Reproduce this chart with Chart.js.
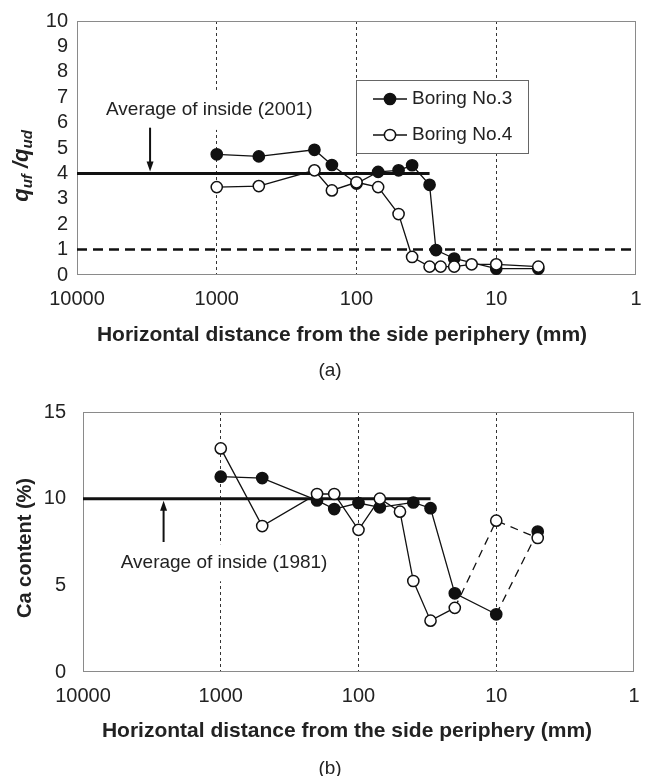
<!DOCTYPE html>
<html>
<head>
<meta charset="utf-8">
<script src="https://cdn.jsdelivr.net/npm/chart.js@4.4.1/dist/chart.umd.min.js"></script>
<style>
  body { margin: 0; background: #fff; width: 646px; height: 776px; position: relative; overflow: hidden; font-family: "Liberation Sans", Arial, sans-serif; }
  canvas { position: absolute; left: 0; }
  #chartA { top: 0; }
  #chartB { top: 380px; }
  .cap { position: absolute; left: 300px; width: 60px; text-align: center; font-size: 19px; color: #222; line-height: 22px; }
</style>
</head>
<body>
<canvas id="chartA" width="646" height="380"></canvas>
<canvas id="chartB" width="646" height="396"></canvas>
<div class="cap" style="top:359px">(a)</div>
<div class="cap" style="top:757px">(b)</div>
<script>
// axis ticks
const xTicks = [1, 10, 100, 1000, 10000];
const yTicksA = [0, 1, 2, 3, 4, 5, 6, 7, 8, 9, 10];
const yTicksB = [0, 5, 10, 15];

// (a) strength ratio qu,f / qu,d
const distA3 = [1000, 500, 200, 150, 100, 70, 50, 40, 30, 27, 20, 10, 5];
const ratioA3 = [4.75, 4.67, 4.93, 4.33, 3.6, 4.06, 4.12, 4.32, 3.55, 0.98, 0.65, 0.25, 0.25];
const distA4 = [1000, 500, 200, 150, 100, 70, 50, 40, 30, 25, 20, 15, 10, 5];
const ratioA4 = [3.46, 3.5, 4.12, 3.33, 3.65, 3.46, 2.4, 0.71, 0.33, 0.33, 0.33, 0.42, 0.42, 0.33];
const avgSpanA = [10000, 30];
const avgValueA = 4;
const refValueA = 1;

// (b) Ca content (%)
const distB3 = [1000, 500, 200, 150, 100, 70, 40, 30, 20, 10, 5];
const caB3 = [11.27, 11.19, 9.9, 9.4, 9.75, 9.5, 9.78, 9.45, 4.54, 3.33, 8.1];
const distB4 = [1000, 500, 200, 150, 100, 70, 50, 40, 30, 20, 10, 5];
const caB4 = [12.9, 8.42, 10.27, 10.27, 8.2, 10.0, 9.25, 5.25, 2.96, 3.7, 8.73, 7.73];
const dashFromB3 = [9];
const dashFromB4 = [9, 10];
const avgSpanB = [10000, 30];
const avgValueB = 10;

const FONT = '"Liberation Sans", Arial, sans-serif';
const INK = '#222';

const pts = (xs, ys) => xs.map((x, i) => ({ x: x, y: ys[i] }));

function boring(label, data, filled, order, dashFrom) {
    return {
        label: label,
        data: data,
        showLine: true,
        borderColor: '#111',
        borderWidth: 1.3,
        pointRadius: 5.6,
        pointBorderWidth: 1.5,
        pointBorderColor: '#111',
        pointBackgroundColor: filled ? '#111' : '#fff',
        order: order,
        segment: {
            borderDash: c => (dashFrom && dashFrom.includes(c.p0DataIndex)) ? [8, 6] : undefined
        }
    };
}

function flatLine(span, value, width, dash, order) {
    return {
        data: span.map(x => ({ x: x, y: value })),
        showLine: true,
        borderColor: '#111',
        borderWidth: width,
        borderDash: dash,
        pointRadius: 0,
        order: order
    };
}

function xAxis(height) {
    return {
        type: 'logarithmic', min: 1, max: 10000, reverse: true,
        afterBuildTicks: s => { s.ticks = xTicks.map(v => ({ value: v })); },
        afterFit: s => { s.height = height; },
        ticks: { callback: v => String(v), font: { size: 20, family: FONT }, color: INK, padding: 12, maxRotation: 0, autoSkip: false },
        grid: {
            drawTicks: false,
            lineWidth: 1,
            color: c => (c.tick && [10, 100, 1000].includes(c.tick.value)) ? '#333' : 'rgba(0,0,0,0)'
        },
        border: { display: false, dash: [3, 3] }
    };
}

function yAxis(ticks, width, pad) {
    return {
        type: 'linear', min: ticks[0], max: ticks[ticks.length - 1],
        afterBuildTicks: s => { s.ticks = ticks.map(v => ({ value: v })); },
        afterFit: s => { s.width = width; },
        ticks: { font: { size: 20, family: FONT }, color: INK, padding: pad, autoSkip: false },
        grid: { display: false, drawTicks: false },
        border: { display: false }
    };
}

function frame(chart) {
    const { ctx, chartArea: a } = chart;
    ctx.save();
    ctx.strokeStyle = '#8a8a8a';
    ctx.lineWidth = 1;
    ctx.strokeRect(Math.round(a.left) + 0.5, Math.round(a.top) + 0.5, Math.round(a.right - a.left) - 1, Math.round(a.bottom - a.top) - 1);
    ctx.restore();
}

function note(ctx, text, cx, cy, boxH) {
    ctx.save();
    ctx.font = '19px ' + FONT;
    const w = ctx.measureText(text).width;
    ctx.fillStyle = '#fff';
    ctx.fillRect(cx - w / 2 - 4, cy - boxH / 2, w + 8, boxH);
    ctx.fillStyle = INK;
    ctx.textAlign = 'center';
    ctx.textBaseline = 'middle';
    ctx.fillText(text, cx, cy);
    ctx.restore();
}

function arrow(ctx, x, y0, y1) {
    const dir = y1 > y0 ? 1 : -1;
    ctx.save();
    ctx.strokeStyle = '#111';
    ctx.fillStyle = '#111';
    ctx.lineWidth = 2;
    ctx.beginPath();
    ctx.moveTo(x, y0);
    ctx.lineTo(x, y1 - dir * 8);
    ctx.stroke();
    ctx.beginPath();
    ctx.moveTo(x, y1);
    ctx.lineTo(x - 3.5, y1 - dir * 10);
    ctx.lineTo(x + 3.5, y1 - dir * 10);
    ctx.closePath();
    ctx.fill();
    ctx.restore();
}

function xTitle(ctx, cx, cy) {
    ctx.save();
    ctx.font = 'bold 21px ' + FONT;
    ctx.fillStyle = INK;
    ctx.textAlign = 'center';
    ctx.textBaseline = 'middle';
    ctx.fillText('Horizontal distance from the side periphery (mm)', cx, cy);
    ctx.restore();
}

function marker(ctx, x, y, filled) {
    ctx.save();
    ctx.strokeStyle = '#111';
    ctx.lineWidth = 1.3;
    ctx.beginPath();
    ctx.moveTo(x - 17, y);
    ctx.lineTo(x + 17, y);
    ctx.stroke();
    ctx.beginPath();
    ctx.arc(x, y, 5.6, 0, Math.PI * 2);
    ctx.fillStyle = filled ? '#111' : '#fff';
    ctx.fill();
    ctx.lineWidth = 1.5;
    ctx.stroke();
    ctx.restore();
}

const decorA = {
    id: 'decorA',
    beforeDatasetsDraw(chart) { frame(chart); },
    afterDatasetsDraw(chart) {
        const { ctx, scales: { x, y } } = chart;
        note(ctx, 'Average of inside (2001)', x.getPixelForValue(1130), y.getPixelForValue(6.5), 40);
        arrow(ctx, x.getPixelForValue(3000), y.getPixelForValue(5.8), y.getPixelForValue(avgValueA) - 2);

        // legend box
        ctx.save();
        ctx.fillStyle = '#fff';
        ctx.fillRect(356, 80, 172, 73);
        ctx.strokeStyle = '#666';
        ctx.lineWidth = 1;
        ctx.strokeRect(356.5, 80.5, 172, 73);
        ctx.restore();
        marker(ctx, 390, 99, true);
        marker(ctx, 390, 135, false);
        ctx.save();
        ctx.font = '19px ' + FONT;
        ctx.fillStyle = INK;
        ctx.textBaseline = 'middle';
        ctx.fillText('Boring No.3', 412, 99);
        ctx.fillText('Boring No.4', 412, 135);
        ctx.restore();
    },
    afterDraw(chart) {
        const ctx = chart.ctx;
        xTitle(ctx, 342, 335);
        // y title: q_uf / q_ud
        const parts = [['q', 0, 22], ['uf', 6, 15], [' /', 0, 22], ['q', 0, 22], ['ud', 6, 15]];
        ctx.save();
        ctx.fillStyle = INK;
        ctx.textBaseline = 'middle';
        let total = 0;
        parts.forEach(p => { ctx.font = 'italic bold ' + p[2] + 'px ' + FONT; total += ctx.measureText(p[0]).width; });
        ctx.translate(24, 166);
        ctx.rotate(-Math.PI / 2);
        let cx = -total / 2;
        parts.forEach(p => {
            ctx.font = 'italic bold ' + p[2] + 'px ' + FONT;
            ctx.fillText(p[0], cx, p[1] - 2);
            cx += ctx.measureText(p[0]).width;
        });
        ctx.restore();
    }
};

const decorB = {
    id: 'decorB',
    beforeDatasetsDraw(chart) { frame(chart); },
    afterDatasetsDraw(chart) {
        const { ctx, scales: { x, y } } = chart;
        note(ctx, 'Average of inside (1981)', x.getPixelForValue(946), y.getPixelForValue(6.3), 37);
        arrow(ctx, x.getPixelForValue(2600), y.getPixelForValue(7.5), y.getPixelForValue(avgValueB) + 2);
    },
    afterDraw(chart) {
        const ctx = chart.ctx;
        xTitle(ctx, 347, 351);
        ctx.save();
        ctx.fillStyle = INK;
        ctx.font = 'bold 20px ' + FONT;
        ctx.textAlign = 'center';
        ctx.textBaseline = 'middle';
        ctx.translate(25, 168);
        ctx.rotate(-Math.PI / 2);
        ctx.fillText('Ca content (%)', 0, 0);
        ctx.restore();
    }
};

const common = {
    responsive: false,
    animation: false,
    plugins: { legend: { display: false }, tooltip: { enabled: false } }
};

new Chart(document.getElementById('chartA').getContext('2d'), {
    type: 'scatter',
    data: {
        datasets: [
            boring('Boring No.4', pts(distA4, ratioA4), false, 0),
            boring('Boring No.3', pts(distA3, ratioA3), true, 1),
            flatLine(avgSpanA, avgValueA, 3, [], 2),
            flatLine([10000, 1], refValueA, 2.5, [10, 6], 3)
        ]
    },
    options: Object.assign({}, common, {
        layout: { padding: { top: 18, right: 10, left: 0, bottom: 0 } },
        scales: { x: xAxis(105), y: yAxis(yTicksA, 77, 9) }
    }),
    plugins: [decorA]
});

new Chart(document.getElementById('chartB').getContext('2d'), {
    type: 'scatter',
    data: {
        datasets: [
            boring('Boring No.4', pts(distB4, caB4), false, 0, dashFromB4),
            boring('Boring No.3', pts(distB3, caB3), true, 1, dashFromB3),
            flatLine(avgSpanB, avgValueB, 3, [], 2)
        ]
    },
    options: Object.assign({}, common, {
        layout: { padding: { top: 32, right: 12, left: 0, bottom: 0 } },
        scales: { x: xAxis(104), y: yAxis(yTicksB, 83, 17) }
    }),
    plugins: [decorB]
});
</script>
</body>
</html>
